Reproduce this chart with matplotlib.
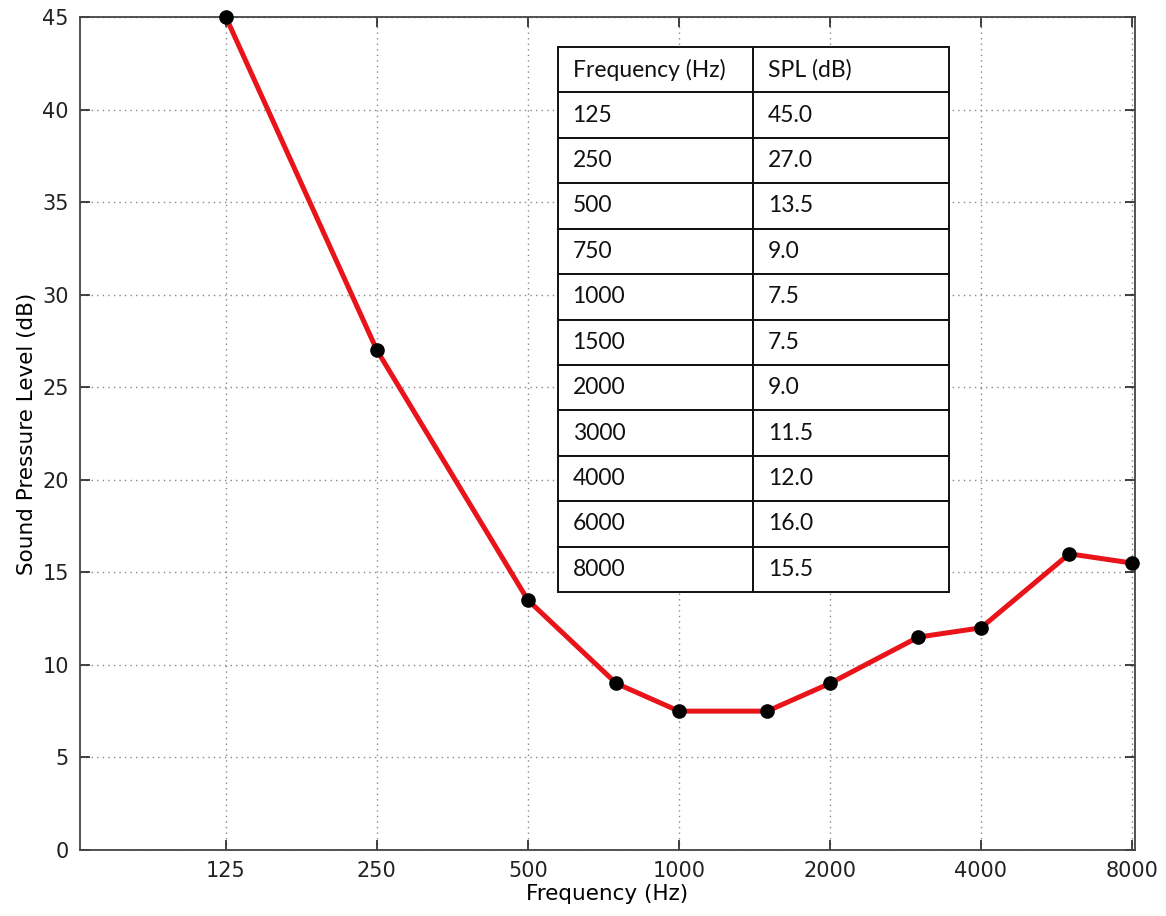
import numpy as np
import matplotlib.pyplot as plt
from matplotlib.ticker import FixedLocator, NullLocator

# ---------------- DATA ----------------
freqs = [125, 250, 500, 750, 1000, 1500, 2000, 3000, 4000, 6000, 8000]
spl = [45.0, 27.0, 13.5, 9.0, 7.5, 7.5, 9.0, 11.5, 12.0, 16.0, 15.5]
xticks = [125, 250, 500, 1000, 2000, 4000, 8000]
yticks = [0, 5, 10, 15, 20, 25, 30, 35, 40, 45]

plt.rcParams['font.family'] = ['DejaVu Sans']

# ---------------- FIGURE ----------------
fig = plt.figure(figsize=(11.66, 9.16), dpi=100)
ax = fig.add_axes([0.0686, 0.0721, 0.9048, 0.9093])

ax.plot(freqs, spl, color='#e8141a', lw=3.6, zorder=3,
        marker='o', markersize=9.5, markerfacecolor='black', markeredgecolor='black',
        clip_on=False)

ax.set_xscale('log', base=2)
ax.set_xlim(64, 8110)
ax.set_ylim(0, 45)
ax.xaxis.set_major_locator(FixedLocator(xticks))
ax.xaxis.set_minor_locator(NullLocator())
ax.set_xticklabels([str(t) for t in xticks])
ax.set_yticks(yticks)

ax.grid(True, linestyle=(0, (1, 3)), color='#888888', lw=1.0)
ax.tick_params(direction='in', length=7, width=1.2, top=True, right=True,
               labelsize=15, pad=8, colors='#222222')
for s in ax.spines.values():
    s.set_color('#444444')
    s.set_linewidth(1.3)

ax.set_xlabel('Frequency (Hz)', fontsize=15.5, labelpad=2)
ax.set_ylabel('Sound Pressure Level (dB)', fontsize=15.5, labelpad=4)

# ---------------- TABLE ----------------
rows = [[str(f), f"{v:.1f}"] for f, v in zip(freqs, spl)]
tbl = ax.table(cellText=rows, colLabels=['Frequency (Hz)', 'SPL (dB)'],
               cellLoc='left', colLoc='left',
               bbox=[0.453, 0.3097, 0.3707, 0.6543], zorder=5)
tbl.auto_set_font_size(False)
for (r, c), cell in tbl.get_celld().items():
    cell.set_facecolor('white')
    cell.set_edgecolor('#111111')
    cell.set_linewidth(1.4)
    cell.PAD = 0.075
    cell.get_text().set_fontsize(16.5)
    cell.get_text().set_family(['Lato', 'DejaVu Sans'])
    cell.get_text().set_color('#111111')

fig.savefig('out.png', dpi=100)
